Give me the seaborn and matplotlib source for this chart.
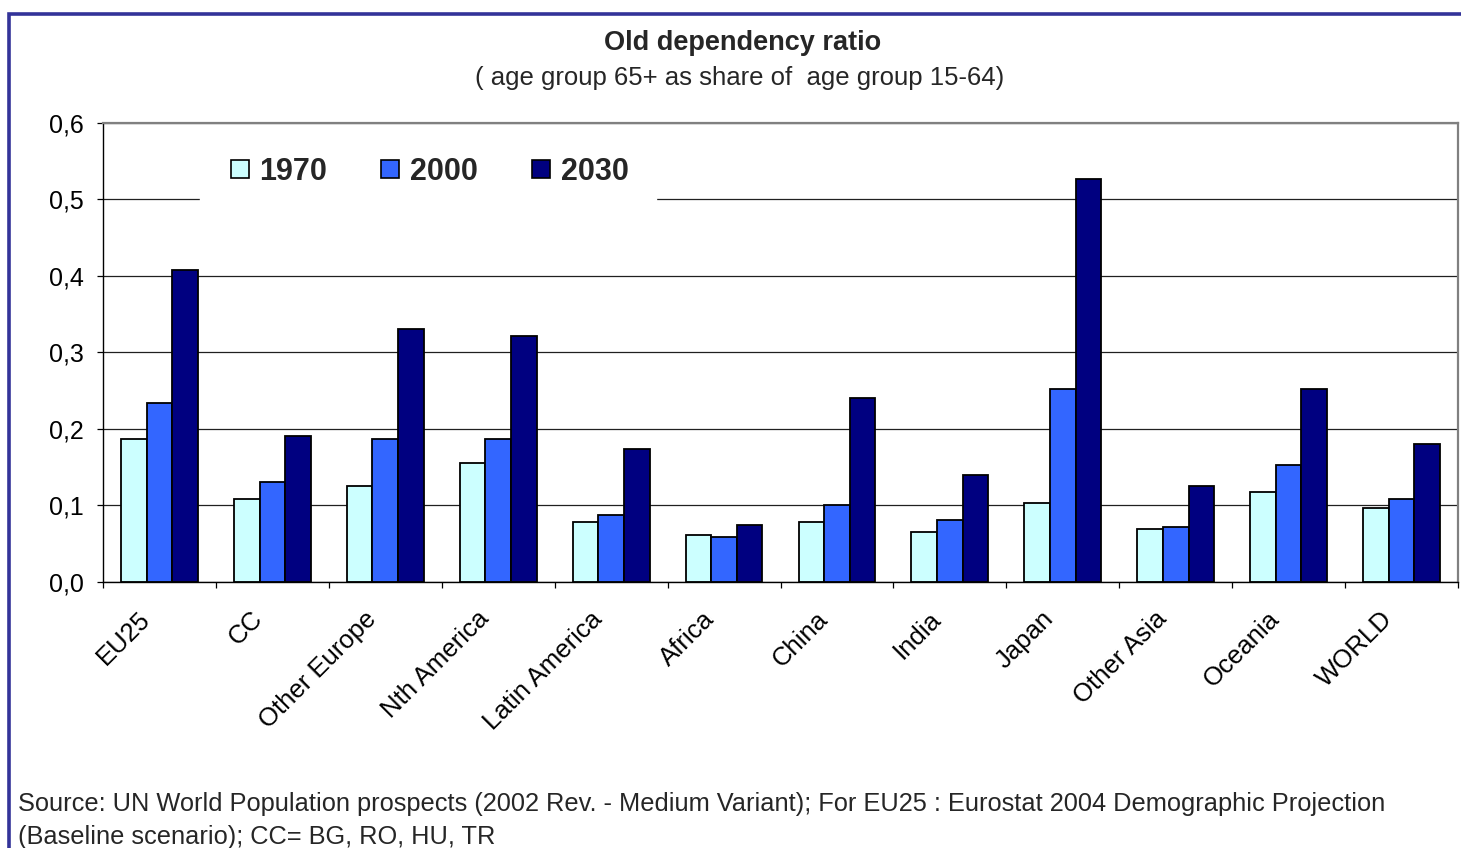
import matplotlib
matplotlib.use("Agg")
import matplotlib.pyplot as plt
from matplotlib.lines import Line2D
from matplotlib.patches import Rectangle
from matplotlib.ticker import FuncFormatter, FixedLocator
from matplotlib.transforms import ScaledTranslation
import numpy as np
import pandas as pd
import seaborn as sns

regions = ["EU25", "CC", "Other Europe", "Nth America", "Latin America", "Africa",
           "China", "India", "Japan", "Other Asia", "Oceania", "WORLD"]
years = ["1970", "2000", "2030"]
ratio_1970 = [0.187, 0.109, 0.125, 0.156, 0.078, 0.062, 0.078, 0.065, 0.103, 0.069, 0.118, 0.097]
ratio_2000 = [0.234, 0.131, 0.187, 0.187, 0.087, 0.059, 0.100, 0.081, 0.252, 0.072, 0.153, 0.109]
ratio_2030 = [0.408, 0.191, 0.330, 0.321, 0.174, 0.075, 0.240, 0.140, 0.526, 0.125, 0.252, 0.180]
y_ticks = [0.0, 0.1, 0.2, 0.3, 0.4, 0.5, 0.6]

colors = {"1970": "#CCFFFF", "2000": "#3366FF", "2030": "#000080"}

df = pd.DataFrame({
    "region": regions * 3,
    "year": [y for y in years for _ in regions],
    "ratio": ratio_1970 + ratio_2000 + ratio_2030,
})

sns.set_theme(style="white")
plt.rcParams["font.family"] = ["Liberation Sans", "DejaVu Sans"]

W, H = 1461, 848
fig = plt.figure(figsize=(W / 100, H / 100), dpi=100)
ax = fig.add_axes([103 / W, 1 - 582 / H, (1458 - 103) / W, (582 - 122.5) / H])

sns.barplot(data=df, x="region", y="ratio", hue="year", order=regions,
            hue_order=years, palette=colors, width=0.68, gap=0,
            edgecolor="black", linewidth=1.3, saturation=1, legend=False, ax=ax)

ax.set_xlim(-0.5, len(regions) - 0.5)
ax.set_ylim(0, 0.6)
ax.set_xlabel("")
ax.set_ylabel("")

# horizontal gridlines
ax.set_yticks(y_ticks)
ax.yaxis.set_major_formatter(FuncFormatter(lambda v, p: f"{v:.1f}".replace(".", ",")))
ax.yaxis.grid(True, color="#202020", linewidth=0.9)
ax.xaxis.grid(False)
ax.set_axisbelow(True)

for side in ["left", "bottom"]:
    ax.spines[side].set_color("black")
    ax.spines[side].set_linewidth(1.0)
for side in ["top", "right"]:
    ax.spines[side].set_color("#808080")
    ax.spines[side].set_linewidth(1.6)

ax.tick_params(axis="y", which="major", direction="out", length=4.5, width=0.9,
               color="black", left=True, labelsize=18, pad=9, labelcolor="black")
ax.xaxis.set_minor_locator(FixedLocator(np.arange(-0.5, len(regions), 1.0)))
ax.tick_params(axis="x", which="minor", direction="out", length=4.5, width=0.9,
               color="black", bottom=True)
ax.tick_params(axis="x", which="major", length=0, labelsize=18.5, pad=16, labelcolor="black")
label_shift = ScaledTranslation(-13 / 100, -11 / 100, fig.dpi_scale_trans)
for lab in ax.get_xticklabels():
    lab.set_rotation(45)
    lab.set_ha("right")
    lab.set_va("center")
    lab.set_rotation_mode("anchor")
    lab.set_transform(lab.get_transform() + label_shift)

handles = [Line2D([], [], linestyle="none", marker="s", markersize=13.5,
                  markerfacecolor=colors[y], markeredgecolor="black",
                  markeredgewidth=1.2) for y in years]
leg = ax.legend(handles, years, loc="center left",
                bbox_to_anchor=(200 / W, 1 - 172 / H), bbox_transform=fig.transFigure,
                ncol=3, frameon=True, fancybox=False, framealpha=1,
                facecolor="white", edgecolor="white", borderpad=0.9,
                borderaxespad=0, handlelength=0.8, handletextpad=0.25,
                columnspacing=1.66, prop={"weight": "bold", "size": 22})

fig.text(743 / W, 1 - 43 / H, "Old dependency ratio", ha="center", va="center",
         fontsize=19.5, fontweight="bold")
fig.text(740 / W, 1 - 78 / H, "( age group 65+ as share of  age group 15-64)",
         ha="center", va="center", fontsize=18.5)

fig.text(18 / W, 1 - 804 / H,
         "Source: UN World Population prospects (2002 Rev. - Medium Variant); "
         "For EU25 : Eurostat 2004 Demographic Projection",
         ha="left", va="center", fontsize=18.3)
fig.text(18 / W, 1 - 837 / H, "(Baseline scenario); CC= BG, RO, HU, TR",
         ha="left", va="center", fontsize=18.3)

# outer frame
fig.patches.append(Rectangle((8.5 / W, -0.1), 1.2, 1 - 13.5 / H + 0.1,
                             transform=fig.transFigure, fill=False,
                             edgecolor="#333399", linewidth=2.6, zorder=10))

fig.savefig("out.png", dpi=100)
